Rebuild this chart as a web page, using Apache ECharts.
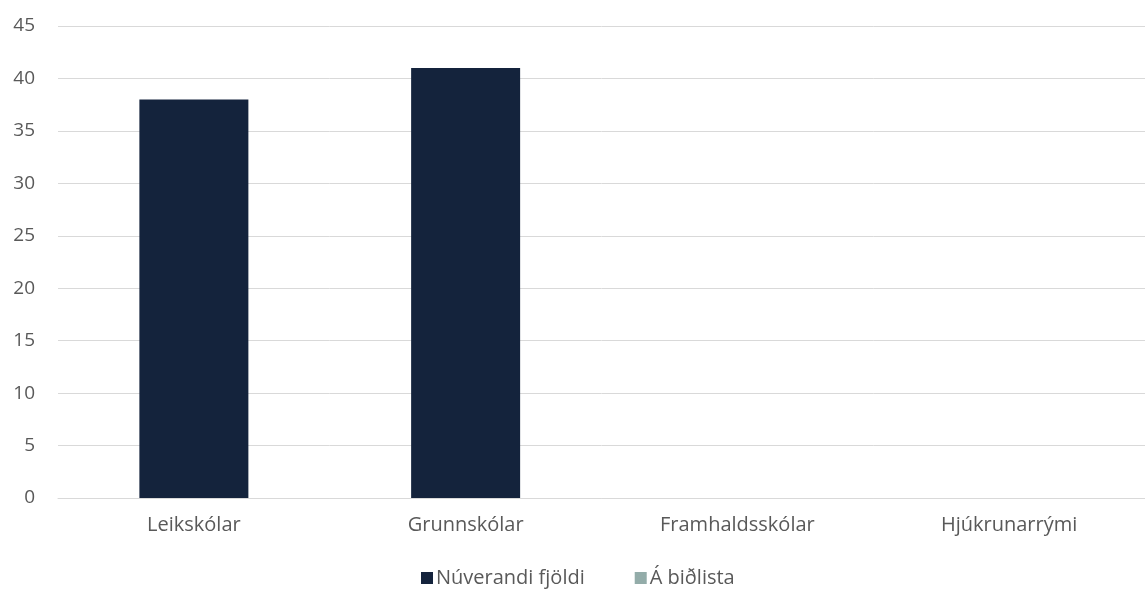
<!DOCTYPE html>
<html><head><meta charset="utf-8">
<script src="https://cdn.jsdelivr.net/npm/echarts@6/dist/echarts.min.js"></script>
<style>html,body{margin:0;padding:0;background:#fff}#c{width:1145px;height:590px}</style>
</head><body><div id="c"></div>
<script>
const categories = ['Leikskólar', 'Grunnskólar', 'Framhaldsskólar', 'Hjúkrunarrými'];
const seriesNames = ['Núverandi fjöldi', 'Á biðlista'];
const nuverandi = [38, 41, 0, 0];
const bidlisti = [0, 0, 0, 0];
const yTicks = { min: 0, max: 45, interval: 5 };

const chart = echarts.init(document.getElementById('c'), null, { renderer: 'canvas' });
const font = 'Open Sans';
chart.setOption({
  animation: false,
  textStyle: { fontFamily: font },
  grid: { left: 58, top: 26, width: 1097, height: 472, containLabel: false },
  legend: {
    data: seriesNames,
    top: 563, left: 416, itemWidth: 12, itemHeight: 12, itemGap: 50,
    icon: 'rect',
    textStyle: { color: '#595959', fontSize: 20, fontFamily: font, padding: [0, 0, 0, -2] }
  },
  xAxis: {
    type: 'category', data: categories,
    axisLine: { lineStyle: { color: '#d9d9d9', width: 1 } },
    axisTick: { show: false },
    axisLabel: { color: '#595959', fontSize: 20, margin: 17, fontFamily: font }
  },
  yAxis: {
    type: 'value', min: yTicks.min, max: yTicks.max, interval: yTicks.interval,
    axisLine: { show: false }, axisTick: { show: false },
    splitLine: { lineStyle: { color: '#d9d9d9', width: 1 } },
    axisLabel: { color: '#595959', fontSize: 19, margin: 23, fontFamily: font }
  },
  series: [
    { name: seriesNames[0], type: 'bar', stack: 's', data: nuverandi, barWidth: 109,
      itemStyle: { color: '#14233c' } },
    { name: seriesNames[1], type: 'bar', stack: 's', data: bidlisti, barWidth: 109,
      itemStyle: { color: '#93aca9' } }
  ]
});
</script></body></html>
